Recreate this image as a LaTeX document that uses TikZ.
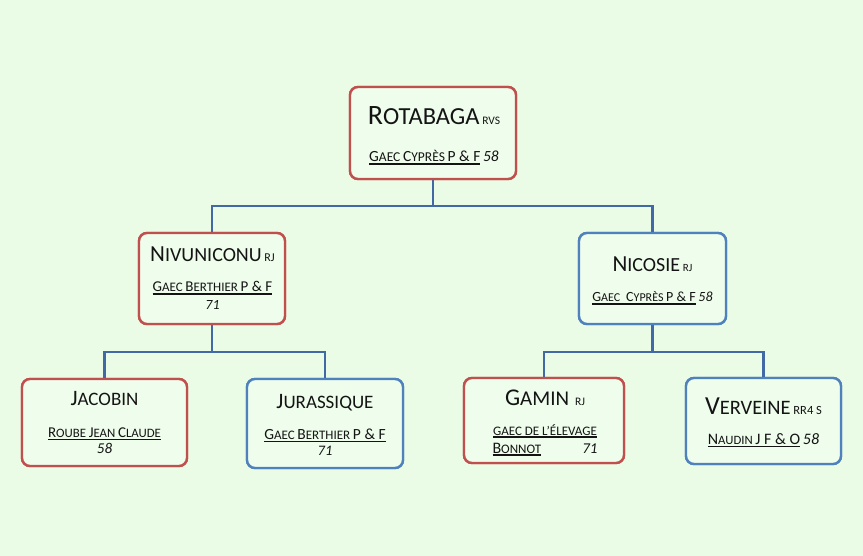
\documentclass[tikz,border=0pt]{standalone}
\usepackage{fontspec}
\setmainfont{Carlito}
\definecolor{bg}{RGB}{235,252,230}
\definecolor{boxfill}{RGB}{239,253,236}
\definecolor{redb}{RGB}{192,80,77}
\definecolor{blueb}{RGB}{79,129,189}
\definecolor{conncol}{RGB}{64,105,165}
\definecolor{txt}{RGB}{20,20,20}
\newcommand\fs[2]{{\fontsize{#1}{#1}\selectfont #2}}
\newcommand\fit[2]{{\fontsize{#1}{#1}\selectfont\itshape #2}}
\newcommand\ul[1]{\leavevmode\setbox0=\hbox{#1}\rlap{\rule[-2.6pt]{\wd0}{1.1pt}}\box0\relax}
\tikzset{
  box/.style={draw, line width=2.4pt, rounded corners=8pt, fill=boxfill, inner sep=0pt},
  redbox/.style={box, draw=redb},
  bluebox/.style={box, draw=blueb},
  lbl/.style={anchor=base, inner sep=0pt, text=txt, font=\fontsize{12}{12}\selectfont},
  conn/.style={draw=conncol, line width=2.2pt}
}
\begin{document}
\begin{tikzpicture}[x=1pt,y=-1pt]
\fill[bg] (0,0) rectangle (863,556);
\useasboundingbox (0,0) rectangle (863,556);

\node[redbox, minimum width=166pt, minimum height=92pt] (top) at (433,133) {};
\node[redbox, minimum width=146pt, minimum height=91pt] (nivu) at (212,278.5) {};
\node[bluebox, minimum width=147pt, minimum height=91pt] (nico) at (652.5,278.5) {};
\node[redbox, minimum width=165pt, minimum height=87pt] (jac) at (104.5,422.5) {};
\node[bluebox, minimum width=156pt, minimum height=89pt] (jur) at (325,423.5) {};
\node[redbox, minimum width=160pt, minimum height=85pt] (gam) at (544,420.5) {};
\node[bluebox, minimum width=155pt, minimum height=86pt] (ver) at (763.5,421) {};

\draw[conn] (top.south) -- ++(0,26) -| (nivu.north);
\draw[conn] (top.south) -- ++(0,26) -| (nico.north);
\draw[conn] (nivu.south) -- ++(0,26.5) -| (jac.north);
\draw[conn] (nivu.south) -- ++(0,26.5) -| (jur.north);
\draw[conn] (nico.south) -- ++(0,26.5) -| (gam.north);
\draw[conn] (nico.south) -- ++(0,26.5) -| (ver.north);

% redraw boxes over connectors
\node[redbox, minimum width=166pt, minimum height=92pt] at (top) {};
\node[redbox, minimum width=146pt, minimum height=91pt] at (nivu) {};
\node[bluebox, minimum width=147pt, minimum height=91pt] at (nico) {};
\node[redbox, minimum width=165pt, minimum height=87pt] at (jac) {};
\node[bluebox, minimum width=156pt, minimum height=89pt] at (jur) {};
\node[redbox, minimum width=160pt, minimum height=85pt] at (gam) {};
\node[bluebox, minimum width=155pt, minimum height=86pt] at (ver) {};

% top
\node[lbl] (t1) at (434,125) {\fs{28}{R}\fs{24.5}{OTABAGA} \fs{11.5}{RVS}};
\node[lbl] (t2) at (434,162) {\ul{\fs{15.5}{G}\fs{13.5}{AEC} \fs{15.5}{C}\fs{13.5}{YPRÈS} \fs{15.5}{P \& F}} \fit{15.5}{58}};

% nivuniconu
\node[lbl] (n1) at (212.5,262) {\fs{23}{N}\fs{20}{IVUNICONU} \fs{12}{RJ}};
\node[lbl] (n2) at (212.5,292) {\ul{\fs{15}{G}\fs{13}{AEC} \fs{15}{B}\fs{13}{ERTHIER} \fs{15}{P \& F}}};
\node[lbl] (n3) at (212.5,310) {\fit{14}{71}};

% nicosie
\node[lbl] (c1) at (652.5,272) {\fs{23}{N}\fs{20}{ICOSIE} \fs{11}{RJ}};
\node[lbl] (c2) at (652.5,302) {\ul{\fs{14}{G}\fs{12}{AEC}\hspace{0.5em}\fs{14}{C}\fs{12}{YPRÈS} \fs{14}{P \& F}} \fit{14}{58}};

% jacobin
\node[lbl] (j1) at (104.5,406) {\fs{22}{J}\fs{19}{ACOBIN}};
\node[lbl] (j2) at (104.5,437) {\ul{\fs{15}{R}\fs{12.8}{OUBE} \fs{15}{J}\fs{12.8}{EAN} \fs{15}{C}\fs{12.8}{LAUDE}}};
\node[lbl] (j3) at (104.5,453) {\fit{15}{58}};

% jurassique
\node[lbl] (u1) at (325,408) {\fs{22}{J}\fs{19}{URASSIQUE}};
\node[lbl] (u2) at (325,439) {\ul{\fs{15.5}{G}\fs{13}{AEC} \fs{15.5}{B}\fs{13}{ERTHIER} \fs{15.5}{P \& F}}};
\node[lbl] (u3) at (325,455) {\fit{14.5}{71}};

% gamin
\node[lbl] (g1) at (545,405) {\fs{24}{G}\fs{21}{AMIN}\hspace{0.5em}\fs{11.5}{RJ}};
\node[lbl] (g2) at (545,435) {\ul{\fs{13}{GAEC DE L’ÉLEVAGE}}};
\node[lbl] (g3) at (545,453) {\makebox[105pt][s]{\ul{\fs{16}{B}\fs{13}{ONNOT}}\hfill\fit{15}{71}}};

% verveine
\node[lbl] (v1) at (763.5,414) {\fs{26}{V}\fs{20.5}{ERVEINE} \fs{12.5}{RR4 S}};
\node[lbl] (v2) at (763.5,444) {\ul{\fs{16}{N}\fs{12.7}{AUDIN} \fs{16}{J F \& O}} \fit{16}{58}};
\end{tikzpicture}
\end{document}
